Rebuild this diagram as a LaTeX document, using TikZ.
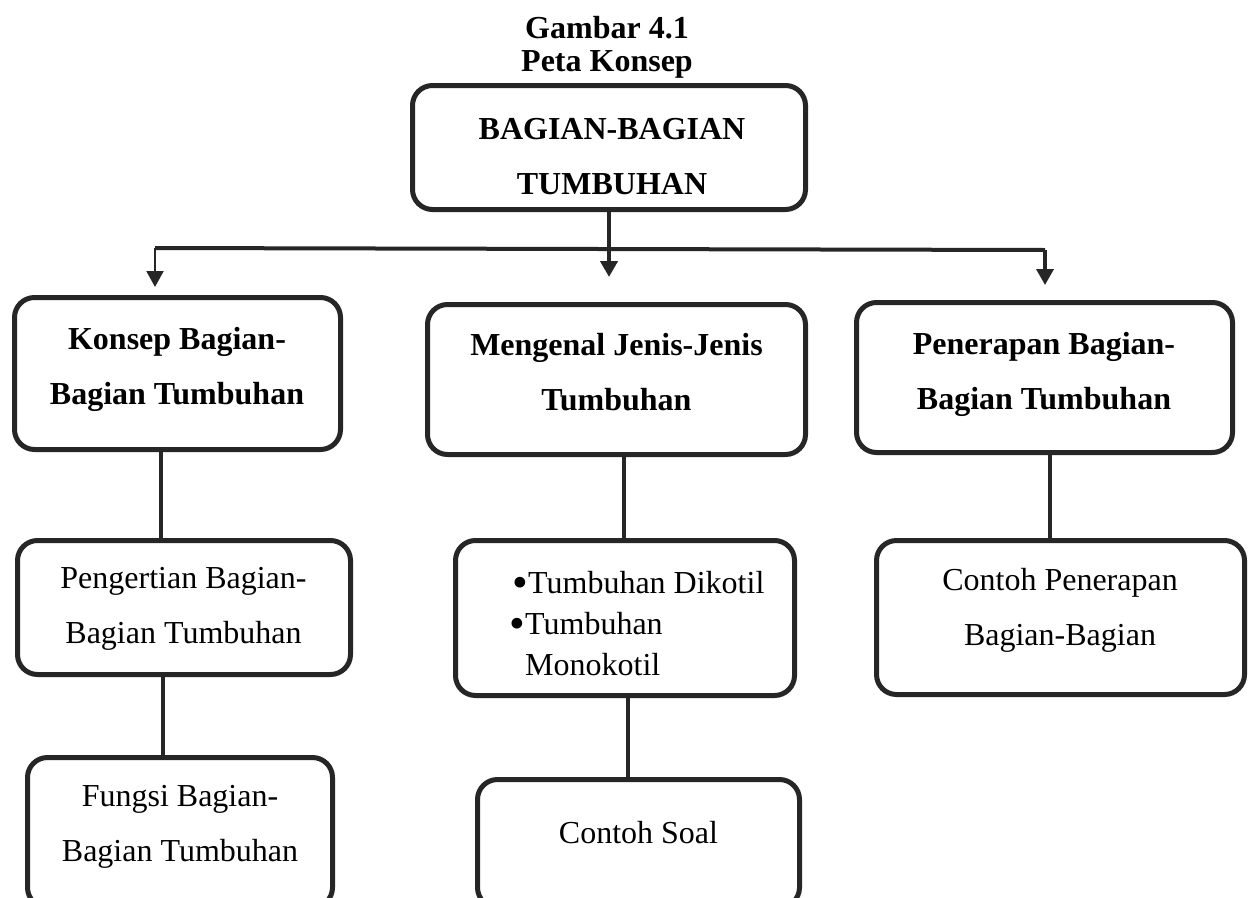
\documentclass[tikz,border=0pt]{standalone}
\usepackage{fontspec}
\setmainfont{Liberation Serif}
\usetikzlibrary{arrows.meta}

\definecolor{linegray}{HTML}{262626}

% bigger bullet, as in the original list
\newcommand{\bigbul}{\makebox[13pt][l]{\hspace*{-2.5pt}\raisebox{-4pt}{\scalebox{1.4}{\textbullet}}}}

\begin{document}
\begin{tikzpicture}[x=1pt, y=-1pt,
    box/.style={draw=linegray, line width=5pt, rounded corners=20pt, inner sep=0pt},
    link/.style={draw=linegray, line width=3.5pt},
    arrow/.style={link, -{Triangle[width=17pt,length=16pt]}},
    boldtext/.style={font=\bfseries\fontsize{32}{55}\selectfont, align=center, inner sep=0pt},
    plaintext/.style={font=\fontsize{32}{55}\selectfont, align=center, inner sep=0pt}]

    % Page size
    \def\pw{1257}
    \def\ph{897}
    \useasboundingbox (0,0) rectangle (\pw,\ph);
    \clip (0,0) rectangle (\pw,\ph);
    \fill[white] (0,0) rectangle (\pw,\ph);

    % Title
    \node[boldtext, font=\bfseries\fontsize{32}{33}\selectfont] (title) at (607,47) {Gambar 4.1\\Peta Konsep};

    % Boxes
    \node[box, minimum width=393pt, minimum height=124pt] (top) at (609,147.5) {};
    \node[box, minimum width=326pt, minimum height=152pt] (konsep) at (177.5,373.5) {};
    \node[box, minimum width=378pt, minimum height=150pt] (mengenal) at (616.5,379.5) {};
    \node[box, minimum width=376pt, minimum height=150pt] (penerapan) at (1044.5,377.5) {};
    \node[box, minimum width=333pt, minimum height=134pt] (pengertian) at (184,607.5) {};
    \node[box, minimum width=339pt, minimum height=155pt] (jenis) at (625,618) {};
    \node[box, minimum width=368pt, minimum height=154pt] (contoh) at (1060.5,617.5) {};
    \node[box, minimum width=305pt, minimum height=150pt] (fungsi) at (180,832.5) {};
    \node[box, minimum width=322pt, minimum height=128pt] (soal) at (638.5,843.5) {};

    % Texts
    \node[boldtext] (toptext) at (612,156.5) {BAGIAN-BAGIAN\\TUMBUHAN};
    \node[boldtext] (konseptext) at (177,369.5) {Konsep Bagian-\\Bagian Tumbuhan};
    \node[boldtext] (mengenaltext) at (616.5,372.5) {Mengenal Jenis-Jenis\\Tumbuhan};
    \node[boldtext] (penerapantext) at (1044,374.5) {Penerapan Bagian-\\Bagian Tumbuhan};
    \node[plaintext] (pengertiantext) at (183.5,608.5) {Pengertian Bagian-\\Bagian Tumbuhan};
    \node[plaintext, font=\fontsize{32}{41}\selectfont, align=left, anchor=west] (jenistext) at (512,624)
        {\hspace*{3pt}\bigbul Tumbuhan Dikotil\\\bigbul Tumbuhan\\\hspace*{13pt}Monokotil};
    \node[plaintext] (contohtext) at (1060,610.5) {Contoh Penerapan\\Bagian-Bagian};
    \node[plaintext] (fungsitext) at (180,826.5) {Fungsi Bagian-\\Bagian Tumbuhan};
    \node[plaintext] (soaltext) at (638.5,833) {Contoh Soal};

    % Branch
    \coordinate (hl) at (155,248);
    \coordinate (hr) at (1045,250);
    \draw[link, line width=4pt] (hl) -- (hr);
    \draw[arrow, line width=4pt, shorten >=25pt] (top.south) -- (top.south |- mengenal.north);
    \draw[arrow, line width=2pt, shorten >=8pt] (hl) -- (hl |- konsep.north);
    \draw[arrow, shorten >=15pt] (hr) -- (hr |- penerapan.north);

    % Links between boxes
    \foreach \a/\b/\x in {konsep/pengertian/161, pengertian/fungsi/163, mengenal/jenis/624, jenis/soal/628, penerapan/contoh/1050}
        \draw[link] (\a.south -| \x,0) -- (\b.north -| \x,0);

\end{tikzpicture}
\end{document}
